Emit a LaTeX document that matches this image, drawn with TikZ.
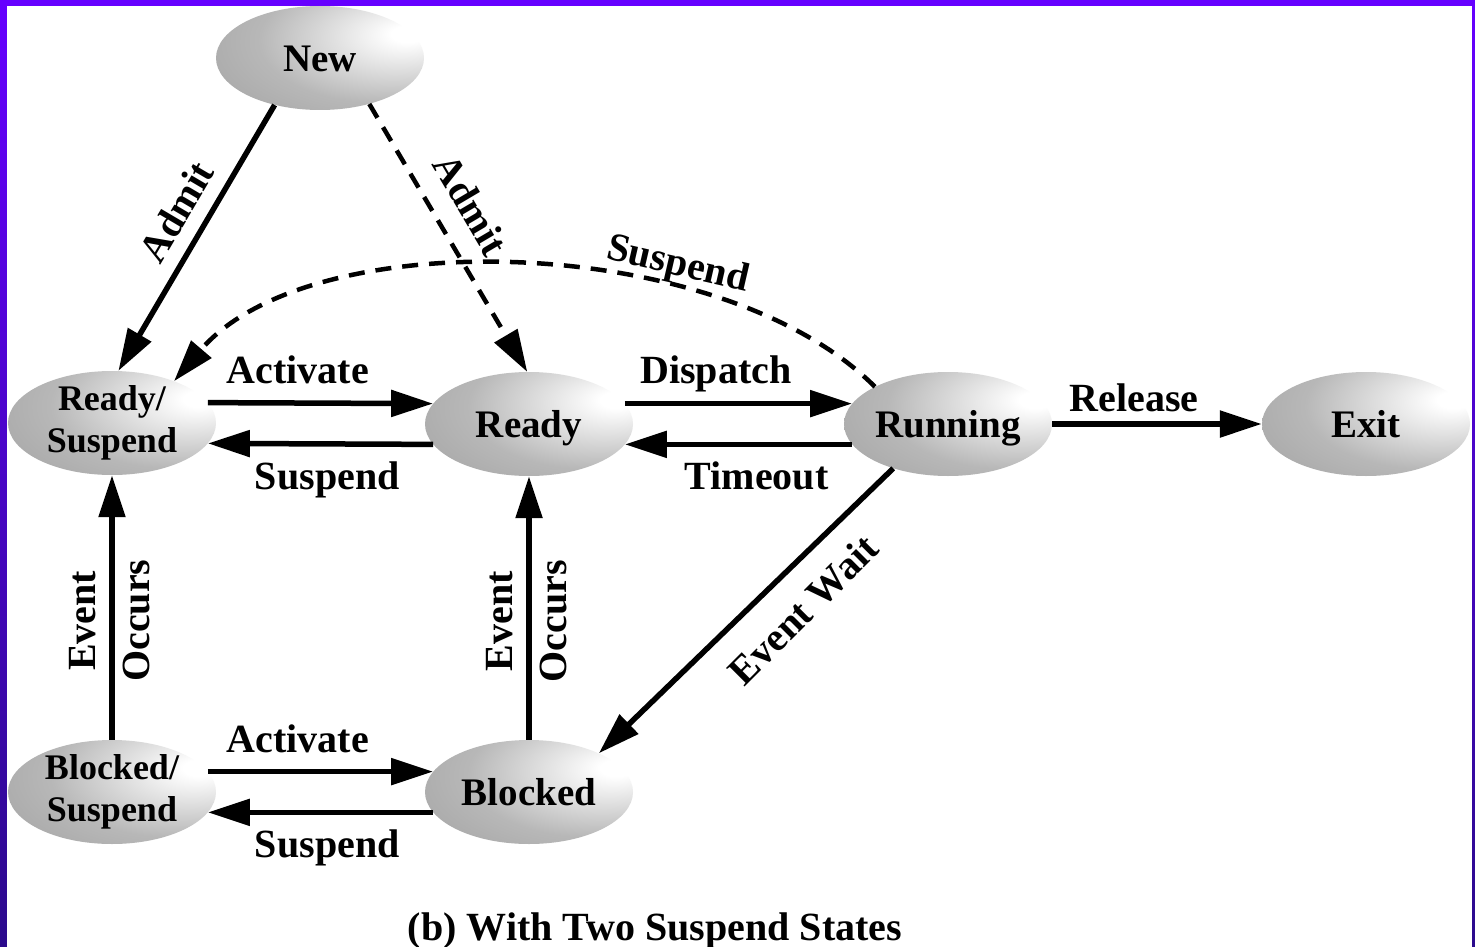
\documentclass[tikz,border=0pt]{standalone}
\usepackage{fontspec}
\setmainfont{Liberation Serif}
\usetikzlibrary{shapes.geometric,arrows.meta}
% grey ball fill with the highlight towards the upper right
\pgfdeclareradialshading{stateball}{\pgfpoint{22bp}{12bp}}{color(0bp)=(white); color(4bp)=(white); color(30bp)=(black!28); color(75bp)=(black!47); color(100bp)=(black!47)}
\definecolor{frametop}{HTML}{6600FF}
\definecolor{framebot}{HTML}{2B0A8C}

\begin{document}
\begin{tikzpicture}[x=1pt,y=-1pt,
  state/.style={ellipse, shading=stateball, minimum width=208pt, minimum height=104pt,
    inner sep=0pt, align=center, font=\bfseries\fontsize{39}{42}\selectfont},
  oneline/.style={text height=27pt, text depth=-3pt},
  twoline/.style={inner ysep=-14pt, font=\bfseries\fontsize{36}{42}\selectfont},
  arr/.style={line width=5.5pt, -{Triangle[length=42pt,width=26pt]}},
  darr/.style={arr, line width=4.5pt, dash pattern=on 16pt off 11pt},
  lbl/.style={font=\bfseries\fontsize{40}{46}\selectfont, text=black},
]
\useasboundingbox (0,0) rectangle (1475,947);

% frame
\shade[top color=frametop, bottom color=framebot] (0,0) rectangle (1475,947);
\fill[white] (7,6) rectangle (1472,947);

% states
\node[state,oneline] (new) at (320,58) {New};
\node[state,twoline] (rs) at (112,423) {Ready/\\Suspend};
\node[state,oneline] (rd) at (529,424) {Ready};
\node[state,oneline] (run) at (948,424) {Running};
\node[state,oneline] (ex) at (1366,424) {Exit};
\node[state,twoline] (bs) at (112,792) {Blocked/\\Suspend};
\node[state,oneline] (bl) at (529,792) {Blocked};

% admission
\draw[arr] (new.226) -- node[lbl,pos=.46,rotate=59.5,above,inner sep=14pt]{Admit} (rs.83);
\draw[darr] (new.-43) -- node[lbl,pos=.445,rotate=-59.4,above,inner sep=20pt]{Admit} (rd.92);

% suspend from running
\draw[darr] (run.153) .. controls (720,232) and (310,222) .. (rs.34)
  node[lbl,pos=.31,rotate=-13,above,inner sep=0pt]{Suspend};

% upper row
\draw[arr] (rs.12) -- node[lbl,pos=.40,above,inner sep=16pt]{Activate} (rd.168);
\draw[arr] (rd.192) -- node[lbl,pos=.47,below,inner sep=15pt]{Suspend} (rs.-12);
\draw[arr] (rd.12) -- node[lbl,pos=.40,above,inner sep=9pt]{Dispatch} (run.168);
\draw[arr] (run.192) -- node[lbl,pos=.42,below,inner sep=15pt]{Timeout} (rd.-12);
\draw[arr] (run) -- node[lbl,pos=.39,above,inner sep=9pt]{Release} (ex);

% waiting
\draw[arr] (run.219) -- node[lbl,pos=.40,rotate=45,below,inner sep=22pt]{Event Wait} (bl.29);

% event occurs
\draw[arr] (bs) -- node[lbl,pos=.45,rotate=90,above,inner sep=13pt]{Event}
  node[lbl,pos=.45,rotate=90,below,inner sep=8pt]{Occurs} (rs);
\draw[arr] (bl) -- node[lbl,pos=.45,rotate=90,above,inner sep=13pt]{Event}
  node[lbl,pos=.45,rotate=90,below,inner sep=8pt]{Occurs} (rd);

% lower row
\draw[arr] (bs.12) -- node[lbl,pos=.40,above,inner sep=16pt]{Activate} (bl.168);
\draw[arr] (bl.192) -- node[lbl,pos=.47,below,inner sep=15pt]{Suspend} (bs.-12);

% caption
\node[font=\bfseries\fontsize{40}{46}\selectfont] (title) at (655,931) {(b) With Two Suspend States};
\end{tikzpicture}
\end{document}
